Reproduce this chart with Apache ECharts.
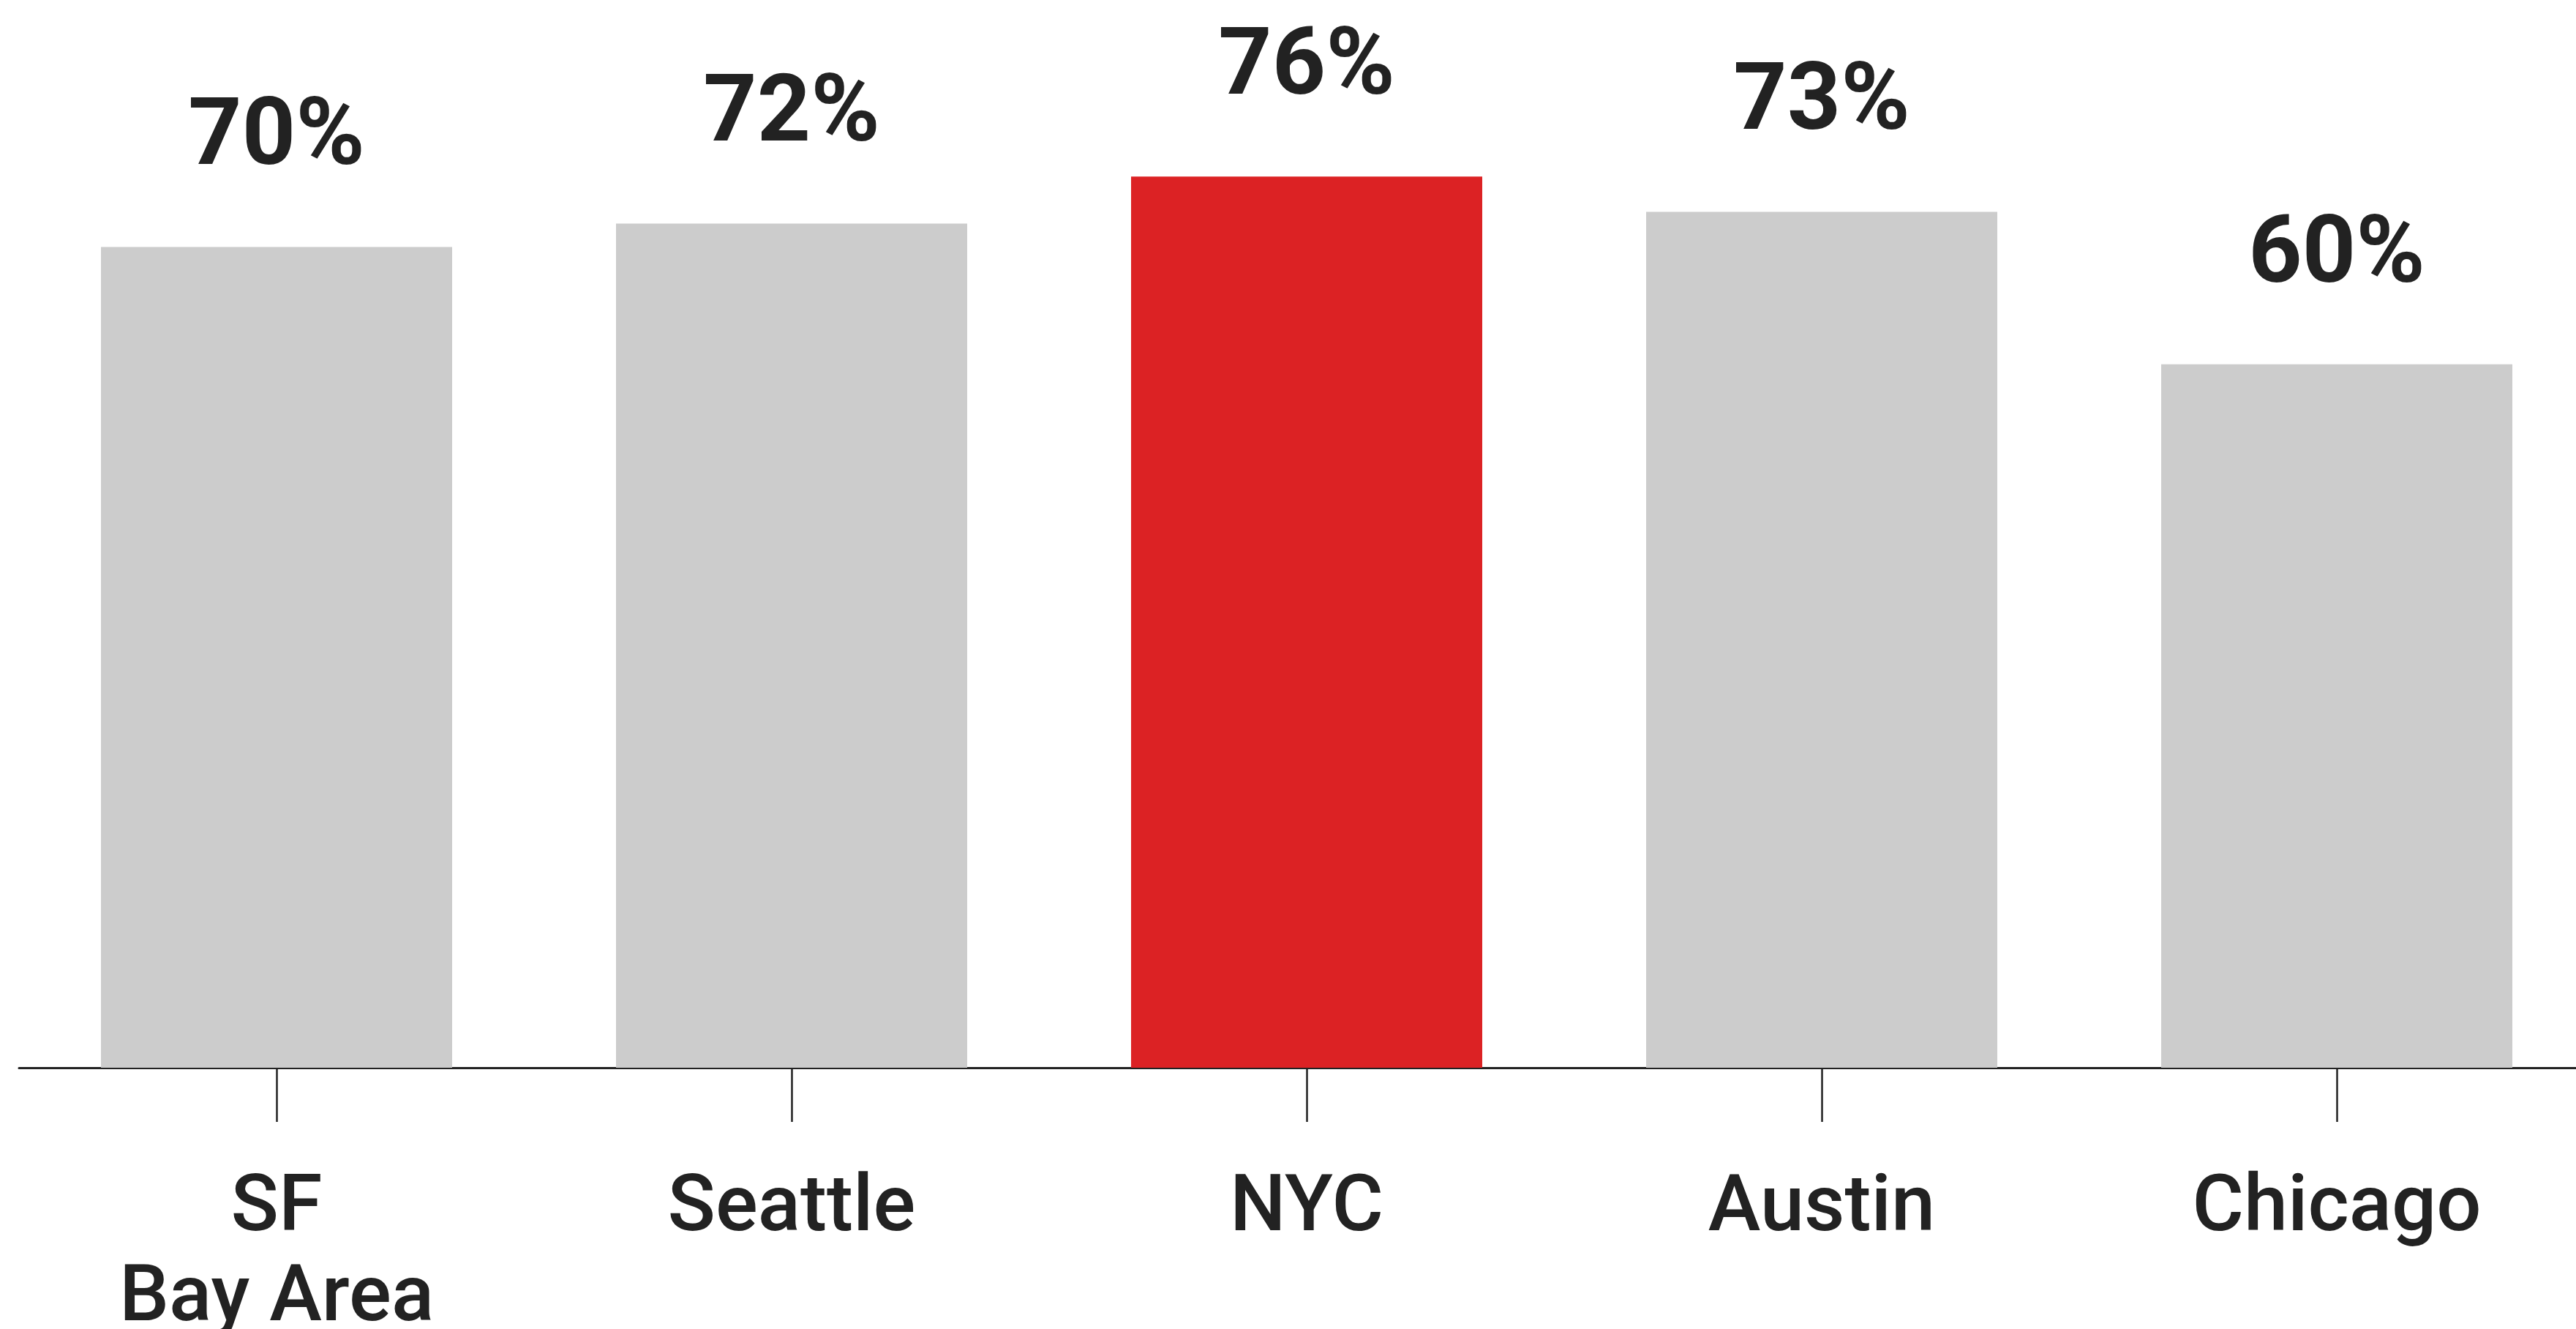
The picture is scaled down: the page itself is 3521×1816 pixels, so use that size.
<!DOCTYPE html>
<html>
<head>
<meta charset="utf-8">
<script src="https://cdn.jsdelivr.net/npm/echarts@6/dist/echarts.min.js"></script>
<style>
  html, body { margin: 0; padding: 0; background: #fff; }
  #chart { width: 3521px; height: 1816px; }
</style>
</head>
<body>
<div id="chart"></div>
<script>
  var cities = ['SF\nBay Area', 'Seattle', 'NYC', 'Austin', 'Chicago'];
  var shares = [70, 72, 76, 73, 60];
  var highlightCity = 'NYC';

  var gray = '#cccccc';
  var red = '#dc2224';
  var ink = '#222222';

  var chart = echarts.init(document.getElementById('chart'));

  var barData = [];
  for (var i = 0; i < cities.length; i++) {
    barData.push({
      value: shares[i],
      itemStyle: { color: cities[i] === highlightCity ? red : gray }
    });
  }

  chart.setOption({
    animation: false,
    grid: { left: 26, top: 1, width: 3520, bottom: 357, outerBoundsMode: 'none', containLabel: false },
    xAxis: {
      type: 'category',
      data: cities,
      axisLine: { show: true, lineStyle: { color: ink, width: 3 } },
      axisTick: { show: true, alignWithLabel: true, length: 74, lineStyle: { color: ink, width: 2.5 } },
      axisLabel: {
        color: ink,
        fontFamily: 'Roboto',
        fontWeight: 500,
        fontSize: 108,
        lineHeight: 123,
        margin: 133
      }
    },
    yAxis: {
      type: 'value',
      min: 0,
      max: 91,
      show: false,
      splitLine: { show: false }
    },
    series: [
      {
        type: 'bar',
        barWidth: 480,
        data: barData,
        z: 1,
        label: {
          show: true,
          position: 'top',
          distance: 81,
          formatter: '{c}%',
          color: ink,
          fontFamily: 'Roboto',
          fontWeight: 'bold',
          fontSize: 128
        }
      }
    ]
  });
</script>
</body>
</html>
